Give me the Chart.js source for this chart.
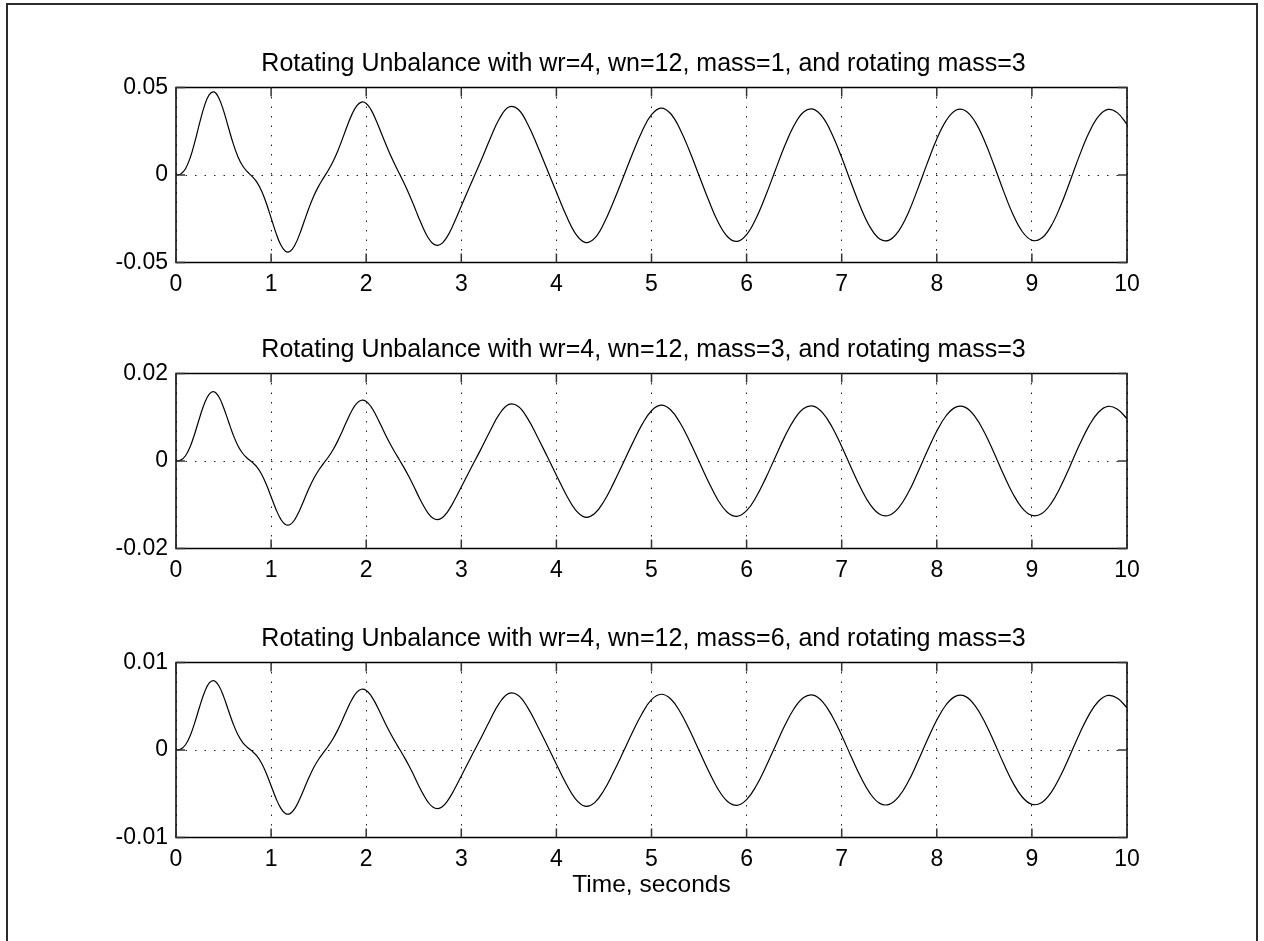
<!DOCTYPE html>
<html>
<head>
<meta charset="utf-8">
<script src="https://cdn.jsdelivr.net/npm/chart.js@4"></script>
<style>
  body { margin: 0; background: #fff; width: 1264px; height: 941px; overflow: hidden; position: relative; }
  #frame { position: absolute; left: 6px; top: 3px; width: 1252px; height: 1000px; border: 2px solid #2b2b2b; box-sizing: border-box; }
  canvas { position: absolute; left: 0; }
</style>
</head>
<body>
<div id="frame"></div>
<canvas id="c1" width="1264" height="290" style="top:40px"></canvas>
<canvas id="c2" width="1264" height="290" style="top:326px"></canvas>
<canvas id="c3" width="1264" height="326" style="top:615px"></canvas>
<script>
/* =========================
   DATA
========================= */
const time = [
  0, 0.05, 0.1, 0.15, 0.2, 0.25, 0.3, 0.35, 0.4, 0.45,
  0.5, 0.55, 0.6, 0.65, 0.7, 0.75, 0.8, 0.85, 0.9, 0.95,
  1, 1.05, 1.1, 1.15, 1.2, 1.25, 1.3, 1.35, 1.4, 1.45,
  1.5, 1.55, 1.6, 1.65, 1.7, 1.75, 1.8, 1.85, 1.9, 1.95,
  2, 2.05, 2.1, 2.15, 2.2, 2.25, 2.3, 2.35, 2.4, 2.45,
  2.5, 2.55, 2.6, 2.65, 2.7, 2.75, 2.8, 2.85, 2.9, 2.95,
  3,
  3.1, 3.2, 3.3, 3.4, 3.5, 3.6, 3.7, 3.8, 3.9, 4,
  4.1, 4.2, 4.3, 4.4, 4.5, 4.6, 4.7, 4.8, 4.9, 5,
  5.1, 5.2, 5.3, 5.4, 5.5, 5.6, 5.7, 5.8, 5.9, 6,
  6.1, 6.2, 6.3, 6.4, 6.5, 6.6, 6.7, 6.8, 6.9, 7,
  7.1, 7.2, 7.3, 7.4, 7.5, 7.6, 7.7, 7.8, 7.9, 8,
  8.1, 8.2, 8.3, 8.4, 8.5, 8.6, 8.7, 8.8, 8.9, 9,
  9.1, 9.2, 9.3, 9.4, 9.5, 9.6, 9.7, 9.8, 9.9, 10
];

// mass = 1
const dispMass1 = [
  0, 0.00059, 0.00359, 0.00998, 0.01935, 0.03002, 0.03963, 0.04593, 0.04747, 0.04405,
  0.03675, 0.02744, 0.01821, 0.01061, 0.0053, 0.00189, -0.00079, -0.00408, -0.00912, -0.01614,
  -0.02451, -0.03292, -0.03972, -0.04352, -0.04359, -0.04004, -0.03379, -0.02617, -0.01854, -0.01184,
  -0.00637, -0.0018, 0.00259, 0.00758, 0.01363, 0.02065, 0.02799, 0.03464, 0.03948, 0.04166,
  0.04087, 0.03733, 0.03178, 0.02517, 0.01838, 0.01199, 0.00616, 0.00068, -0.00486, -0.01081,
  -0.01728, -0.0241, -0.0304, -0.03569, -0.03914, -0.04025, -0.03891, -0.03539, -0.03025, -0.02416,
  -0.01775,
  -0.00512, 0.0073, 0.02028, 0.03214, 0.03882, 0.03743, 0.02888, 0.01669, 0.00357, -0.00974,
  -0.02278, -0.03345, -0.03852, -0.03621, -0.02757, -0.01533, -0.00172, 0.0121, 0.02492, 0.03448,
  0.03825, 0.03513, 0.0262, 0.01371, -0.00032, -0.01434, -0.02687, -0.03529, -0.03796, -0.03408,
  -0.02473, -0.0119, 0.00244, 0.01653, 0.02841, 0.03599, 0.03763, 0.03301, 0.02316, 0.00996,
  -0.00459, -0.01856, -0.02991, -0.03658, -0.03723, -0.03191, -0.02167, -0.00793, 0.00678, 0.02053,
  0.0312, 0.03697, 0.03676, 0.03063, 0.01973, 0.00584, -0.00893, -0.0224, -0.03243, -0.03728,
  -0.0362, -0.02933, -0.01787, -0.00369, 0.01106, 0.02413, 0.03344, 0.03747, 0.0355, 0.029
];

// mass = 3
const dispMass3 = [
  0, 0.0002, 0.0012, 0.00333, 0.00645, 0.01001, 0.01321, 0.01531, 0.01582, 0.01468,
  0.01225, 0.00915, 0.00607, 0.00354, 0.00177, 0.00063, -0.00026, -0.00136, -0.00304, -0.00538,
  -0.00817, -0.01097, -0.01324, -0.01451, -0.01453, -0.01335, -0.01126, -0.00872, -0.00618, -0.00395,
  -0.00212, -0.0006, 0.00086, 0.00253, 0.00454, 0.00688, 0.00933, 0.01155, 0.01316, 0.01389,
  0.01362, 0.01244, 0.01059, 0.00839, 0.00613, 0.004, 0.00205, 0.00023, -0.00162, -0.0036,
  -0.00576, -0.00803, -0.01013, -0.0119, -0.01305, -0.01342, -0.01297, -0.0118, -0.01008, -0.00805,
  -0.00592,
  -0.00171, 0.00243, 0.00676, 0.01071, 0.01294, 0.01248, 0.00963, 0.00556, 0.00119, -0.00325,
  -0.00759, -0.01115, -0.01284, -0.01207, -0.00919, -0.00511, -0.00057, 0.00403, 0.00831, 0.01149,
  0.01275, 0.01171, 0.00873, 0.00457, -0.00011, -0.00478, -0.00896, -0.01176, -0.01265, -0.01136,
  -0.00824, -0.00397, 0.00081, 0.00551, 0.00947, 0.012, 0.01254, 0.011, 0.00772, 0.00332,
  -0.00153, -0.00619, -0.00997, -0.01219, -0.01241, -0.01064, -0.00722, -0.00264, 0.00226, 0.00684,
  0.0104, 0.01232, 0.01225, 0.01021, 0.00658, 0.00195, -0.00298, -0.00747, -0.01081, -0.01243,
  -0.01207, -0.00978, -0.00596, -0.00123, 0.00369, 0.00804, 0.01115, 0.01249, 0.01183, 0.00967
];

// mass = 6
const dispMass6 = [
  0, 0.0001, 0.0006, 0.00166, 0.00322, 0.005, 0.00661, 0.00766, 0.00791, 0.00734,
  0.00613, 0.00457, 0.00303, 0.00177, 0.00088, 0.00031, -0.00013, -0.00068, -0.00152, -0.00269,
  -0.00409, -0.00549, -0.00662, -0.00725, -0.00727, -0.00667, -0.00563, -0.00436, -0.00309, -0.00197,
  -0.00106, -0.0003, 0.00043, 0.00126, 0.00227, 0.00344, 0.00467, 0.00577, 0.00658, 0.00694,
  0.00681, 0.00622, 0.0053, 0.0042, 0.00306, 0.002, 0.00103, 0.00011, -0.00081, -0.0018,
  -0.00288, -0.00402, -0.00507, -0.00595, -0.00652, -0.00671, -0.00649, -0.0059, -0.00504, -0.00403,
  -0.00296,
  -0.00085, 0.00122, 0.00338, 0.00536, 0.00647, 0.00624, 0.00481, 0.00278, 0.0006, -0.00162,
  -0.0038, -0.00558, -0.00642, -0.00604, -0.0046, -0.00255, -0.00029, 0.00202, 0.00415, 0.00575,
  0.00637, 0.00586, 0.00437, 0.00228, -0.00005, -0.00239, -0.00448, -0.00588, -0.00633, -0.00568,
  -0.00412, -0.00198, 0.00041, 0.00276, 0.00474, 0.006, 0.00627, 0.0055, 0.00386, 0.00166,
  -0.00077, -0.00309, -0.00498, -0.0061, -0.00621, -0.00532, -0.00361, -0.00132, 0.00113, 0.00342,
  0.0052, 0.00616, 0.00613, 0.0051, 0.00329, 0.00097, -0.00149, -0.00373, -0.0054, -0.00621,
  -0.00603, -0.00489, -0.00298, -0.00062, 0.00184, 0.00402, 0.00557, 0.00624, 0.00592, 0.00483
];

const xTicks = [0, 1, 2, 3, 4, 5, 6, 7, 8, 9, 10];
const yTicks1 = [-0.05, 0, 0.05];
const yTicks3 = [-0.02, 0, 0.02];
const yTicks6 = [-0.01, 0, 0.01];

const title1 = "Rotating Unbalance with wr=4, wn=12, mass=1, and rotating mass=3";
const title3 = "Rotating Unbalance with wr=4, wn=12, mass=3, and rotating mass=3";
const title6 = "Rotating Unbalance with wr=4, wn=12, mass=6, and rotating mass=3";
const xLabel = "Time, seconds";

/* =========================
   CHART
========================= */
const FONT = "'Liberation Sans', Arial, Helvetica, sans-serif";

// box round the axes + inward tick marks, like matlab
const boxPlugin = {
  id: "box",
  afterDraw(chart) {
    const { ctx, chartArea: a, scales } = chart;
    ctx.save();
    ctx.strokeStyle = "#000";
    ctx.lineWidth = 1.5;
    ctx.strokeRect(a.left, a.top, a.right - a.left, a.bottom - a.top);

    ctx.strokeStyle = "#333";
    ctx.lineWidth = 1.5;
    ctx.beginPath();
    scales.x.ticks.forEach((t) => {
      const px = scales.x.getPixelForValue(t.value);
      ctx.moveTo(px, a.bottom);
      ctx.lineTo(px, a.bottom - 9);
      ctx.moveTo(px, a.top);
      ctx.lineTo(px, a.top + 9);
    });
    scales.y.ticks.forEach((t) => {
      const py = scales.y.getPixelForValue(t.value);
      ctx.moveTo(a.left, py);
      ctx.lineTo(a.left + 9, py);
      ctx.moveTo(a.right, py);
      ctx.lineTo(a.right - 9, py);
    });
    ctx.stroke();
    ctx.restore();
  },
};

function renderChart(id, title, values, yTicks, withXLabel) {
  const canvas = document.getElementById(id);
  const xHeight = canvas.height - 47.5 - 175;

  new Chart(canvas.getContext("2d"), {
    type: "line",
    data: {
      datasets: [
        {
          data: time.map((t, i) => ({ x: t, y: values[i] })),
          borderColor: "#000",
          borderWidth: 1.2,
          pointRadius: 0,
          tension: 0.4,
          fill: false,
        },
      ],
    },
    options: {
      responsive: false,
      animation: false,
      // left pad + empty right axis keep the title centred where matlab put it
      layout: { padding: { top: 9, left: 23, right: 0, bottom: 0 } },
      plugins: {
        legend: { display: false },
        tooltip: { enabled: false },
        title: {
          display: true,
          text: title,
          color: "#000",
          font: { family: FONT, size: 25, weight: "normal" },
          padding: { top: 0, bottom: 8.5 },
        },
      },
      scales: {
        x: {
          type: "linear",
          min: xTicks[0],
          max: xTicks[xTicks.length - 1],
          afterBuildTicks: (s) => { s.ticks = xTicks.map((v) => ({ value: v })); },
          afterFit: (s) => { s.height = xHeight; },
          grid: { color: "#222", lineWidth: 1, drawTicks: false },
          border: { display: false, dash: [1.5, 8] },
          ticks: {
            color: "#000",
            padding: 8,
            maxRotation: 0,
            autoSkip: false,
            font: { family: FONT, size: 23 },
            callback: (v) => String(v),
          },
          title: {
            display: withXLabel,
            text: xLabel,
            color: "#000",
            font: { family: FONT, size: 24.5 },
            padding: { top: 0, bottom: 41.3 },
          },
        },
        y: {
          min: yTicks[0],
          max: yTicks[yTicks.length - 1],
          afterBuildTicks: (s) => { s.ticks = yTicks.map((v) => ({ value: v })); },
          afterFit: (s) => { s.width = 153; },
          grid: { color: "#222", lineWidth: 1, drawTicks: false },
          border: { display: false, dash: [1.5, 8] },
          ticks: {
            color: "#000",
            padding: 8,
            font: { family: FONT, size: 23 },
            callback: (v) => String(v),
          },
        },
        y2: {
          position: "right",
          min: yTicks[0],
          max: yTicks[yTicks.length - 1],
          afterFit: (s) => { s.width = 137; },
          grid: { display: false, drawTicks: false },
          border: { display: false },
          ticks: { display: false },
        },
      },
    },
    plugins: [boxPlugin],
  });
}

renderChart("c1", title1, dispMass1, yTicks1, false);
renderChart("c2", title3, dispMass3, yTicks3, false);
renderChart("c3", title6, dispMass6, yTicks6, true);
</script>
</body>
</html>
